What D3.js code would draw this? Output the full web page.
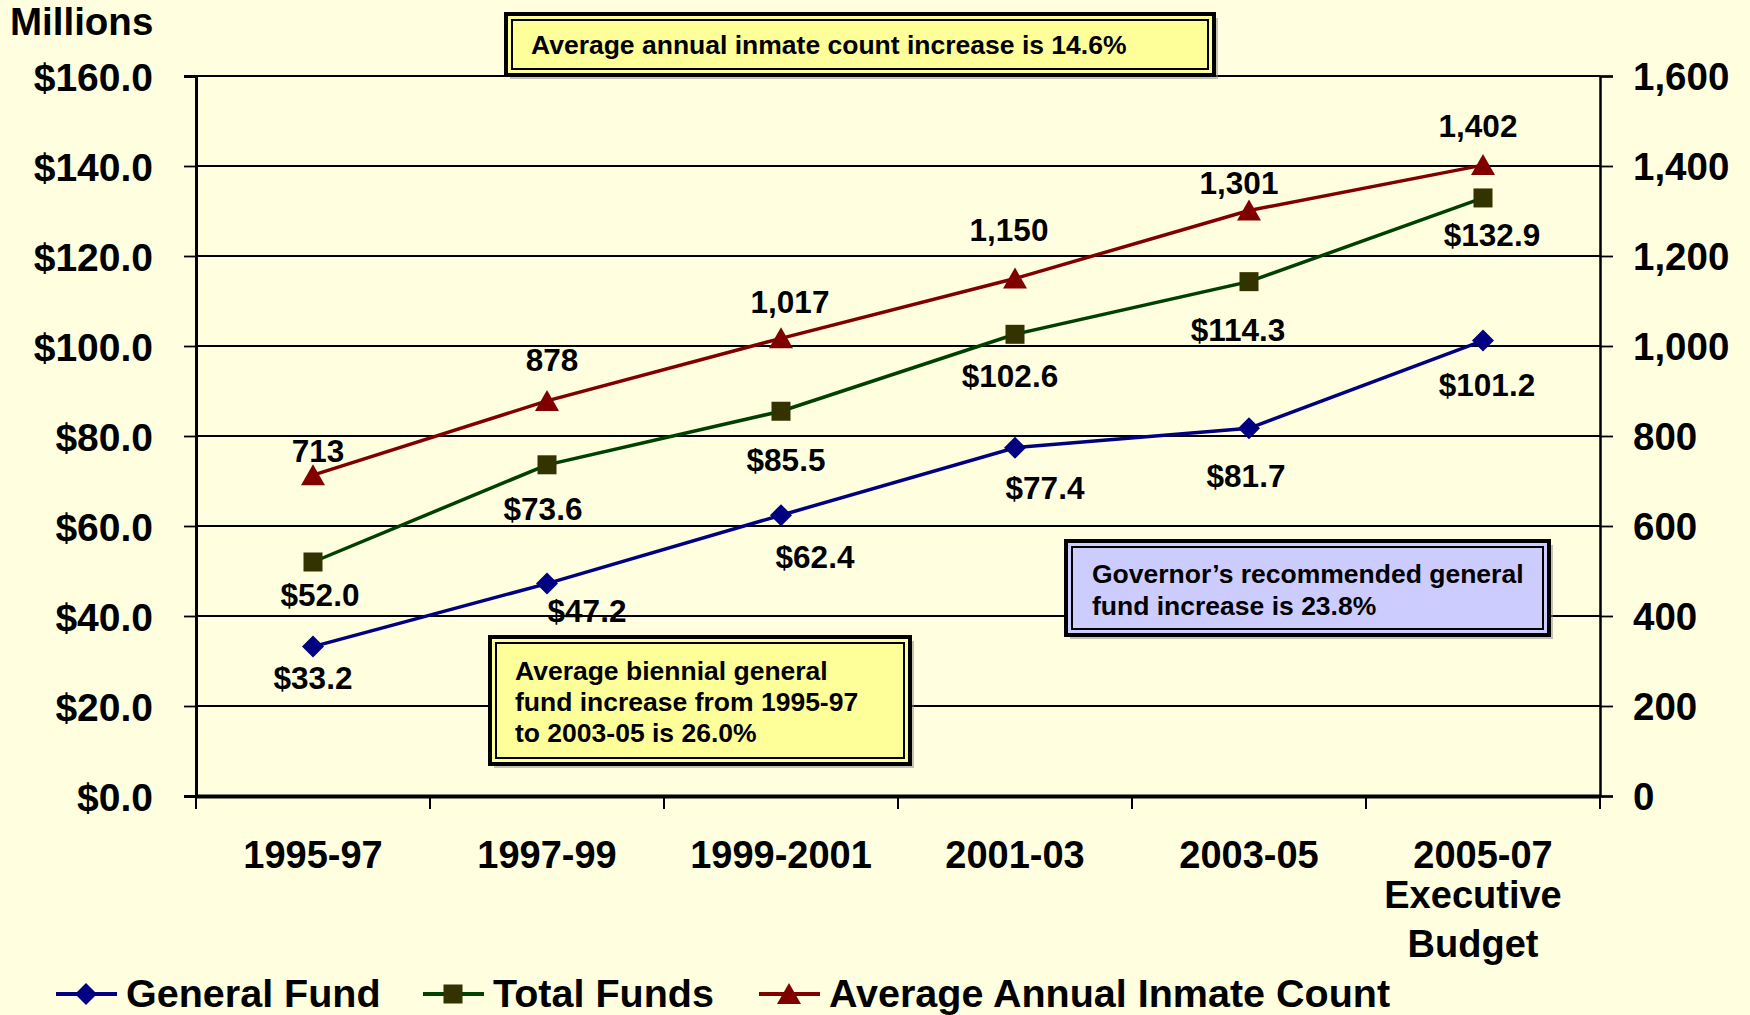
<!DOCTYPE html>
<html>
<head>
<meta charset="utf-8">
<script src="https://cdn.jsdelivr.net/npm/d3@7"></script>
<style>
  body { margin: 0; background: #ffffe0; }
  svg text { font-family: "Liberation Sans", Arial, sans-serif; font-weight: bold; fill: #000; }
</style>
</head>
<body>
<div id="chart"></div>
<script>
// data
var periods = ["1995-97", "1997-99", "1999-2001", "2001-03", "2003-05", "2005-07"];
var generalFund = [33.2, 47.2, 62.4, 77.4, 81.7, 101.2];
var totalFunds = [52.0, 73.6, 85.5, 102.6, 114.3, 132.9];
var inmateCount = [713, 878, 1017, 1150, 1301, 1402];
var leftTicks = [0, 20, 40, 60, 80, 100, 120, 140, 160];
var rightTicks = [0, 200, 400, 600, 800, 1000, 1200, 1400, 1600];

// label offsets (dx, dy from the point), tuned by eye
var gfOffsets = [[0, 42], [40, 38], [34, 53], [30, 51], [-3, 59], [4, 55]];
var tfOffsets = [[7, 44], [-4, 55], [5, 60], [-5, 53], [-11, 59], [9, 48]];
var icOffsets = [[5, -13], [5, -30], [9, -25], [-6, -38], [-10, -17], [-5, -28]];

var w = 1750, h = 1015;
var plotLeft = 196, plotRight = 1600, plotTop = 76, plotBottom = 796;

var svg = d3.select("#chart").append("svg")
  .attr("width", w)
  .attr("height", h);

svg.append("rect").attr("width", w).attr("height", h).attr("fill", "#ffffe0");

var x = d3.scaleBand().domain(periods).range([plotLeft, plotRight]).padding(0);
var yL = d3.scaleLinear().domain([0, 160]).range([plotBottom, plotTop]);
var yR = d3.scaleLinear().domain([0, 1600]).range([plotBottom, plotTop]);

function cx(i) { return x(periods[i]) + x.bandwidth() / 2; }

// gridlines
svg.append("g").selectAll("line")
  .data(leftTicks.filter(function(d) { return d > 0; }))
  .enter().append("line")
  .attr("x1", plotLeft).attr("x2", plotRight)
  .attr("y1", function(d) { return yL(d); })
  .attr("y2", function(d) { return yL(d); })
  .attr("stroke", "#000")
  .attr("stroke-width", 1.8);

// left axis
var axL = svg.append("g")
  .attr("transform", "translate(" + plotLeft + ",0)")
  .call(d3.axisLeft(yL).tickValues(leftTicks).tickSize(12).tickPadding(31)
    .tickFormat(function(d) { return "$" + d3.format(".1f")(d); }));
axL.select(".domain").attr("stroke-width", 3);
axL.selectAll(".tick line").attr("stroke-width", 1.8);
axL.selectAll("text").attr("font-size", 39).attr("dy", "0.36em")
  .attr("font-family", "Liberation Sans, Arial, sans-serif").attr("font-weight", "bold");

// right axis
var axR = svg.append("g")
  .attr("transform", "translate(" + plotRight + ",0)")
  .call(d3.axisRight(yR).tickValues(rightTicks).tickSize(13).tickPadding(20)
    .tickFormat(d3.format(",")));
axR.select(".domain").attr("stroke-width", 2.5);
axR.selectAll(".tick line").attr("stroke-width", 1.8);
axR.selectAll("text").attr("font-size", 38.5).attr("dy", "0.36em")
  .attr("font-family", "Liberation Sans, Arial, sans-serif").attr("font-weight", "bold");

// bottom axis
var axB = svg.append("g")
  .attr("transform", "translate(0," + plotBottom + ")")
  .call(d3.axisBottom(x).tickSize(0).tickPadding(0).tickFormat(""));
axB.select(".domain").attr("stroke-width", 4);
svg.append("g").selectAll("line")
  .data(d3.range(periods.length + 1))
  .enter().append("line")
  .attr("x1", function(i) { return plotLeft + i * x.bandwidth(); })
  .attr("x2", function(i) { return plotLeft + i * x.bandwidth(); })
  .attr("y1", plotBottom).attr("y2", plotBottom + 13)
  .attr("stroke", "#000").attr("stroke-width", 2);

svg.append("g").selectAll("text")
  .data(periods)
  .enter().append("text")
  .attr("x", function(d, i) { return cx(i); })
  .attr("y", 868)
  .attr("text-anchor", "middle")
  .attr("font-size", 38)
  .text(function(d) { return d; });
svg.append("text").attr("x", cx(5) - 10).attr("y", 908).attr("text-anchor", "middle")
  .attr("font-size", 38).text("Executive");
svg.append("text").attr("x", cx(5) - 10).attr("y", 957).attr("text-anchor", "middle")
  .attr("font-size", 38).text("Budget");

svg.append("text").attr("x", 10).attr("y", 35).attr("font-size", 38.5).text("Millions");

// markers
function marker(sel, type, color, size) {
  if (type == "diamond") {
    sel.append("path").attr("d", "M0,-" + size + "L" + size + ",0L0," + size + "L-" + size + ",0Z").attr("fill", color);
  } else if (type == "square") {
    sel.append("rect").attr("x", -size).attr("y", -size).attr("width", 2 * size).attr("height", 2 * size).attr("fill", color);
  } else {
    sel.append("path").attr("d", "M0,-" + size + "L" + (size + 1) + "," + (size - 1) + "L-" + (size + 1) + "," + (size - 1) + "Z").attr("fill", color);
  }
}

var series = [
  {values: inmateCount, scale: yR, line: "#800000", mark: "#800000", type: "triangle", size: 11, offsets: icOffsets, fmt: d3.format(",")},
  {values: totalFunds, scale: yL, line: "#004000", mark: "#333300", type: "square", size: 9.5, offsets: tfOffsets, fmt: function(d) { return "$" + d3.format(".1f")(d); }},
  {values: generalFund, scale: yL, line: "#000080", mark: "#000080", type: "diamond", size: 11, offsets: gfOffsets, fmt: function(d) { return "$" + d3.format(".1f")(d); }}
];

series.forEach(function(s) {
  var line = d3.line()
    .x(function(d, i) { return cx(i); })
    .y(function(d) { return s.scale(d); });
  svg.append("path")
    .datum(s.values)
    .attr("d", line)
    .attr("fill", "none")
    .attr("stroke", s.line)
    .attr("stroke-width", 3.5);
  svg.append("g").selectAll("g")
    .data(s.values)
    .enter().append("g")
    .attr("transform", function(d, i) { return "translate(" + cx(i) + "," + s.scale(d) + ")"; })
    .each(function() { marker(d3.select(this), s.type, s.mark, s.size); });
  svg.append("g").selectAll("text")
    .data(s.values)
    .enter().append("text")
    .attr("x", function(d, i) { return cx(i) + s.offsets[i][0]; })
    .attr("y", function(d, i) { return s.scale(d) + s.offsets[i][1]; })
    .attr("text-anchor", "middle")
    .attr("font-size", 31.5)
    .text(s.fmt);
});

// annotation boxes
function noteBox(x0, y0, bw, bh, fill, lines, tx, ty, lh) {
  var g = svg.append("g");
  g.append("rect").attr("x", x0 + 4).attr("y", y0 + 4).attr("width", bw).attr("height", bh).attr("fill", "#888").attr("opacity", 0.5);
  g.append("rect").attr("x", x0).attr("y", y0).attr("width", bw).attr("height", bh)
    .attr("fill", fill).attr("stroke", "#000").attr("stroke-width", 4);
  g.append("rect").attr("x", x0 + 6).attr("y", y0 + 6).attr("width", bw - 12).attr("height", bh - 12)
    .attr("fill", fill).attr("stroke", "#000").attr("stroke-width", 2);
  lines.forEach(function(t, i) {
    g.append("text").attr("x", tx).attr("y", ty + i * lh).attr("font-size", 26.5).text(t);
  });
}

noteBox(506, 14, 708, 61, "#ffff99", ["Average annual inmate count increase is 14.6%"], 531, 54, 0);
noteBox(490, 637, 420, 127, "#ffff99", ["Average biennial general", "fund increase from 1995-97", "to 2003-05 is 26.0%"], 515, 680, 31);
noteBox(1066, 541, 483, 94, "#ccccff", ["Governor\u2019s recommended general", "fund increase is 23.8%"], 1092, 583, 32);

// legend
var legendItems = [
  {name: "General Fund", line: "#000080", mark: "#000080", type: "diamond", x: 56},
  {name: "Total Funds", line: "#004000", mark: "#333300", type: "square", x: 423},
  {name: "Average Annual Inmate Count", line: "#800000", mark: "#800000", type: "triangle", x: 759}
];
var lg = svg.append("g").selectAll("g")
  .data(legendItems)
  .enter().append("g")
  .attr("transform", function(d) { return "translate(" + d.x + ",994)"; });
lg.append("line").attr("x1", 0).attr("x2", 61).attr("y1", 0).attr("y2", 0)
  .attr("stroke", function(d) { return d.line; }).attr("stroke-width", 4);
lg.append("g").attr("transform", "translate(30,0)")
  .each(function(d) { marker(d3.select(this), d.type, d.mark, d.type == "square" ? 9.5 : 11); });
lg.append("text").attr("x", 70).attr("y", 13).attr("font-size", 39.5).text(function(d) { return d.name; });
</script>
</body>
</html>
